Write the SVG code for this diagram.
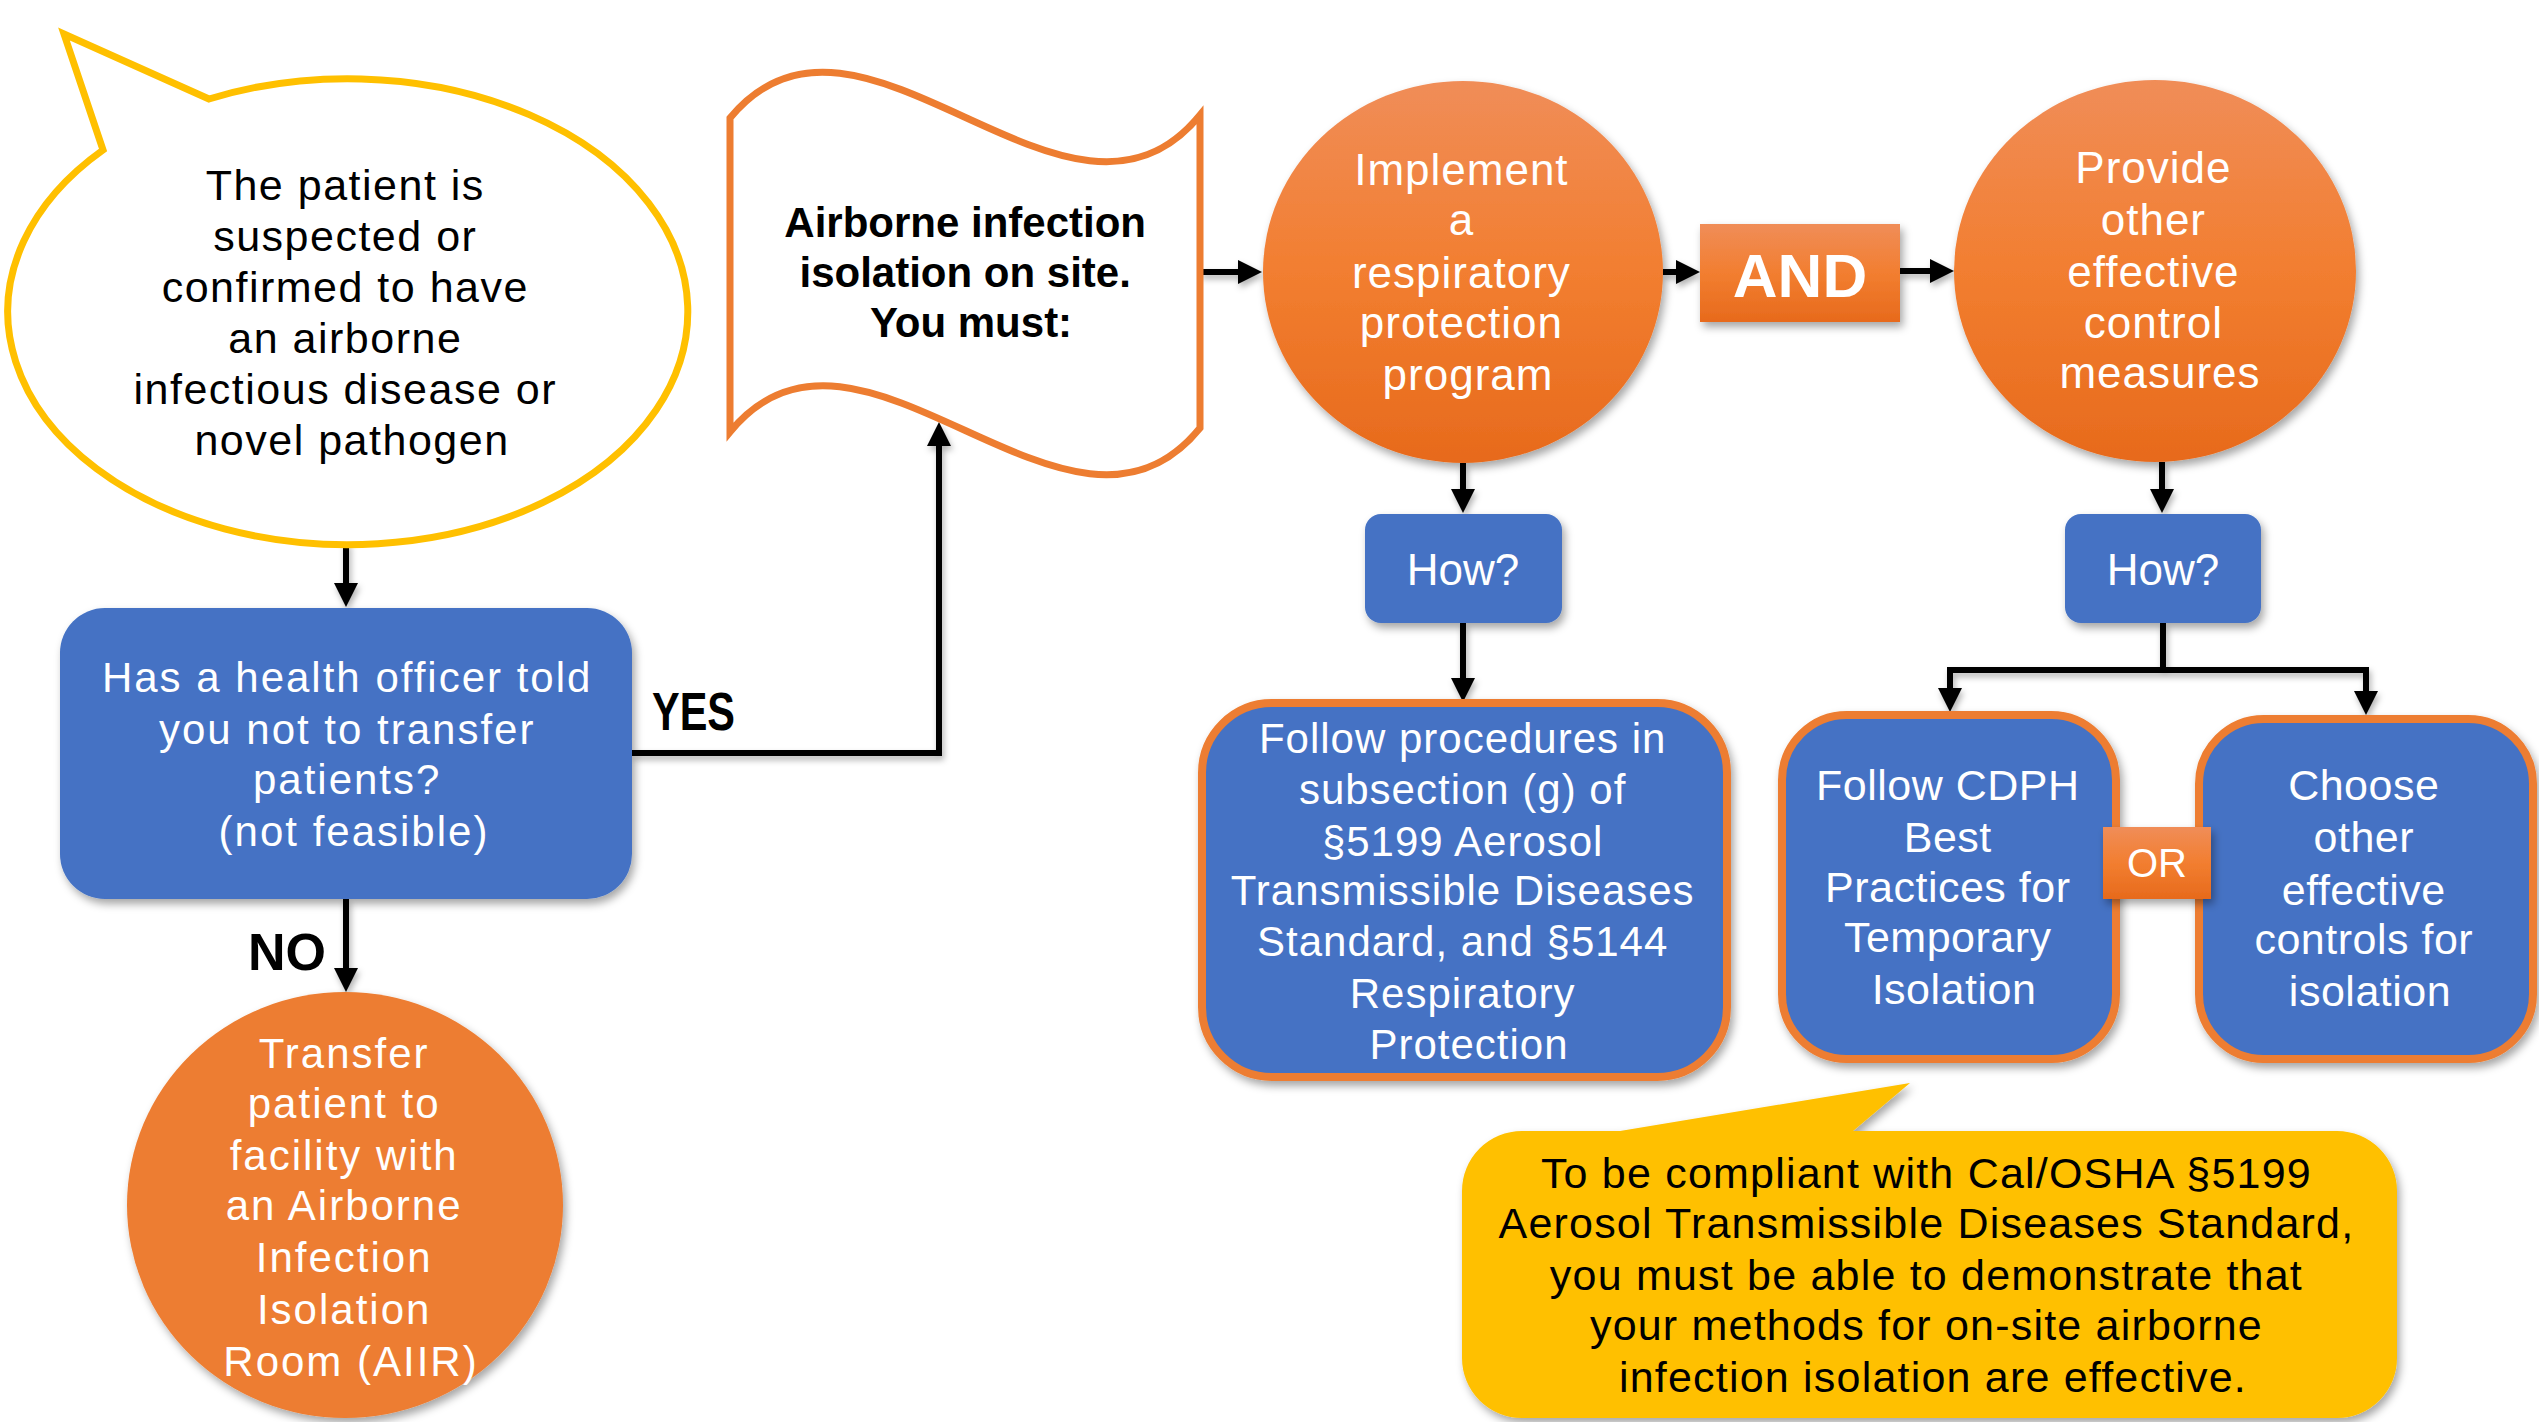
<svg xmlns="http://www.w3.org/2000/svg" width="2539" height="1422" viewBox="0 0 2539 1422">
<defs>
  <linearGradient id="og" x1="0" y1="0" x2="0" y2="1">
    <stop offset="0" stop-color="#F08D58"/>
    <stop offset="0.5" stop-color="#F27E30"/>
    <stop offset="1" stop-color="#E76A1C"/>
  </linearGradient>
  <filter id="sh" x="-10%" y="-10%" width="125%" height="130%">
    <feDropShadow dx="3" dy="5" stdDeviation="4" flood-color="#000" flood-opacity="0.35"/>
  </filter>
  <filter id="lsh" x="-10%" y="-10%" width="130%" height="130%">
    <feDropShadow dx="2" dy="4" stdDeviation="3" flood-color="#000" flood-opacity="0.3"/>
  </filter>
  <marker id="ah" viewBox="0 0 24 24" refX="13" refY="12" markerWidth="24" markerHeight="24" markerUnits="userSpaceOnUse" orient="auto">
    <path d="M0,0 L24,12 L0,24 z" fill="#000"/>
  </marker>
  <style>
    .t{font-family:"Liberation Sans",Arial,sans-serif;text-anchor:middle}
    .w{fill:#fff}
    .k{fill:#000}
    .blue{fill:#4472C4}
    .bo{fill:#4472C4;stroke:#ED7D31;stroke-width:8}
    .conn{fill:none;stroke:#000;stroke-width:6;marker-end:url(#ah)}
  </style>
</defs>
<rect width="2539" height="1422" fill="#fff"/>

<g id="connectors" filter="url(#lsh)">
  <path class="conn" d="M346,542 V596"/>
  <path class="conn" d="M346,899 V981"/>
  <path class="conn" d="M632,753 H939 V433"/>
  <path class="conn" d="M1200,272 H1251"/>
  <path class="conn" d="M1663,272 H1689"/>
  <path class="conn" d="M1900,271 H1943"/>
  <path class="conn" d="M1463,463 V502"/>
  <path class="conn" d="M2162,462 V502"/>
  <path class="conn" d="M1463,623 V691"/>
  <path class="conn" d="M2163,623 V670 H1950 V701"/>
  <path class="conn" d="M2163,670 H2366 V704"/>
</g>

<g id="label-yes"><text x="652" y="730" font-family="Liberation Sans, Arial, sans-serif" font-weight="bold" font-size="53" textLength="83" lengthAdjust="spacingAndGlyphs" fill="#000">YES</text></g>
<g id="label-no"><text x="248" y="970" font-family="Liberation Sans, Arial, sans-serif" font-weight="bold" font-size="52" fill="#000">NO</text></g>

<g id="n-patient">
  <path d="M209,99 L64,34 L103,150 A340,233 0 1 0 209,99 Z" fill="#fff" stroke="#FFC000" stroke-width="7" stroke-linejoin="miter"/>
  <text class="t k" font-size="43" letter-spacing="1.5" transform="translate(6 0)">
    <tspan x="346" y="200">The patient is</tspan>
    <tspan x="346" y="251">suspected or</tspan>
    <tspan x="346" y="302">confirmed to have</tspan>
    <tspan x="346" y="353">an airborne</tspan>
    <tspan x="346" y="404">infectious disease or</tspan>
    <tspan x="346" y="455">novel pathogen</tspan>
  </text>
</g>

<g id="n-officer">
  <rect class="blue" x="60" y="608" width="572" height="291" rx="45" filter="url(#sh)"/>
  <text class="t w" font-size="42" letter-spacing="2" transform="translate(8 0)">
    <tspan x="346" y="692">Has a health officer told</tspan>
    <tspan x="346" y="744">you not to transfer</tspan>
    <tspan x="346" y="794">patients?</tspan>
    <tspan x="346" y="846">(not feasible)</tspan>
  </text>
</g>

<g id="n-transfer">
  <ellipse cx="345" cy="1205" rx="218" ry="213" fill="#ED7D31" filter="url(#sh)"/>
  <text class="t w" font-size="42" letter-spacing="2" transform="translate(6 0)">
    <tspan x="345" y="1068">Transfer</tspan>
    <tspan x="345" y="1118">patient to</tspan>
    <tspan x="345" y="1170">facility with</tspan>
    <tspan x="345" y="1220">an Airborne</tspan>
    <tspan x="345" y="1272">Infection</tspan>
    <tspan x="345" y="1324">Isolation</tspan>
    <tspan x="345" y="1376">Room (AIIR)</tspan>
  </text>
</g>

<g id="n-onsite">
  <path d="M730,118 C860,-40 1070,275 1200,115 L1200,428 C1070,588 860,273 730,432 Z" fill="#fff" stroke="#ED7D31" stroke-width="7"/>
  <text class="t k" font-size="42" font-weight="bold" transform="translate(5 0)">
    <tspan x="966" y="237">Airborne infection</tspan>
    <tspan x="966" y="287">isolation on site.</tspan>
    <tspan x="966" y="337">You must:</tspan>
  </text>
</g>

<g id="n-resp">
  <ellipse cx="1463" cy="272" rx="200" ry="191" fill="url(#og)" filter="url(#sh)"/>
  <text class="t w" font-size="44" letter-spacing="1" transform="translate(5 0)">
    <tspan x="1463" y="185">Implement</tspan>
    <tspan x="1463" y="235">a</tspan>
    <tspan x="1463" y="288">respiratory</tspan>
    <tspan x="1463" y="338">protection</tspan>
    <tspan x="1463" y="390">program</tspan>
  </text>
</g>

<g id="n-and">
  <rect x="1700" y="224" width="200" height="98" fill="url(#og)" filter="url(#sh)"/>
  <text class="t w" x="1800" y="297" font-size="62" font-weight="bold">AND</text>
</g>

<g id="n-other">
  <ellipse cx="2155" cy="271" rx="201" ry="191" fill="url(#og)" filter="url(#sh)"/>
  <text class="t w" font-size="44" letter-spacing="1" transform="translate(5 0)">
    <tspan x="2155" y="183">Provide</tspan>
    <tspan x="2155" y="235">other</tspan>
    <tspan x="2155" y="287">effective</tspan>
    <tspan x="2155" y="338">control</tspan>
    <tspan x="2155" y="388">measures</tspan>
  </text>
</g>

<g id="n-how1">
  <rect class="blue" x="1365" y="514" width="197" height="109" rx="16" filter="url(#sh)"/>
  <text class="t w" x="1463" y="585" font-size="44">How?</text>
</g>

<g id="n-how2">
  <rect class="blue" x="2065" y="514" width="196" height="109" rx="16" filter="url(#sh)"/>
  <text class="t w" x="2163" y="585" font-size="44">How?</text>
</g>

<g id="n-procedures">
  <rect class="bo" x="1202" y="703" width="525" height="374" rx="70" filter="url(#sh)"/>
  <text class="t w" font-size="42" letter-spacing="1" transform="translate(6 0)">
    <tspan x="1463" y="753">Follow procedures in</tspan>
    <tspan x="1463" y="804">subsection (g) of</tspan>
    <tspan x="1463" y="856">§5199 Aerosol</tspan>
    <tspan x="1463" y="905">Transmissible Diseases</tspan>
    <tspan x="1463" y="956">Standard, and §5144</tspan>
    <tspan x="1463" y="1008">Respiratory</tspan>
    <tspan x="1463" y="1059">Protection</tspan>
  </text>
</g>

<g id="n-cdph">
  <rect class="bo" x="1782" y="715" width="334" height="344" rx="65" filter="url(#sh)"/>
  <text class="t w" font-size="43" letter-spacing="0.5" transform="translate(5 0)">
    <tspan x="1949" y="800">Follow CDPH</tspan>
    <tspan x="1949" y="852">Best</tspan>
    <tspan x="1949" y="902">Practices for</tspan>
    <tspan x="1949" y="952">Temporary</tspan>
    <tspan x="1949" y="1004">Isolation</tspan>
  </text>
</g>

<g id="n-choose">
  <rect class="bo" x="2199" y="719" width="334" height="340" rx="65" filter="url(#sh)"/>
  <text class="t w" font-size="43" letter-spacing="0.5" transform="translate(4 0)">
    <tspan x="2366" y="800">Choose</tspan>
    <tspan x="2366" y="852">other</tspan>
    <tspan x="2366" y="905">effective</tspan>
    <tspan x="2366" y="954">controls for</tspan>
    <tspan x="2366" y="1006">isolation</tspan>
  </text>
</g>

<g id="n-or">
  <rect x="2103" y="827" width="108" height="72" fill="url(#og)" filter="url(#sh)"/>
  <text class="t w" x="2157" y="877" font-size="40">OR</text>
</g>

<g id="n-note">
  <path d="M1522,1131 H1620 L1910,1083 L1853,1131 H2337 A60,60 0 0 1 2397,1191 V1358 A60,60 0 0 1 2337,1418 H1522 A60,60 0 0 1 1462,1358 V1191 A60,60 0 0 1 1522,1131 Z" fill="#FFC000" filter="url(#sh)"/>
  <text class="t k" font-size="43" letter-spacing="1.2" transform="translate(6 0)">
    <tspan x="1927" y="1188">To be compliant with Cal/OSHA §5199</tspan>
    <tspan x="1927" y="1238">Aerosol Transmissible Diseases Standard,</tspan>
    <tspan x="1927" y="1290">you must be able to demonstrate that</tspan>
    <tspan x="1927" y="1340">your methods for on-site airborne</tspan>
    <tspan x="1927" y="1392">infection isolation are effective.</tspan>
  </text>
</g>
</svg>
